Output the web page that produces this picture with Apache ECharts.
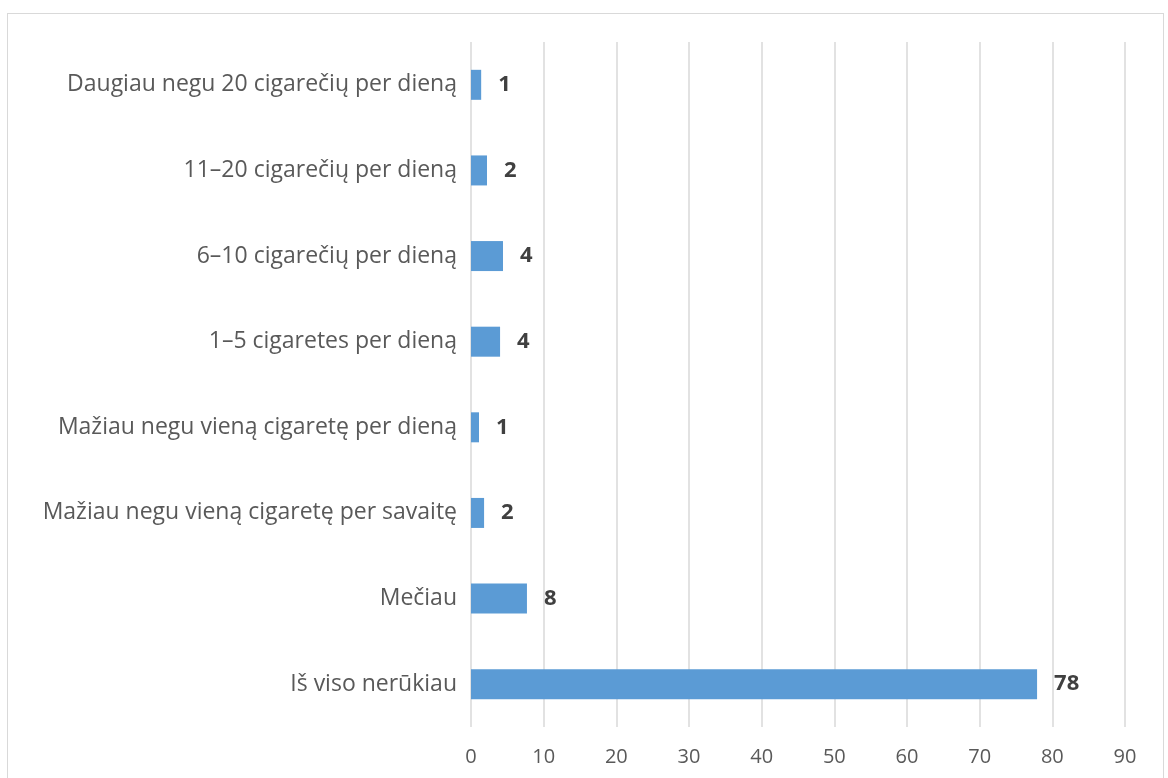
<!DOCTYPE html>
<html>
<head>
<meta charset="utf-8">
<script src="https://cdn.jsdelivr.net/npm/echarts@6/dist/echarts.min.js"></script>
<style>
  html, body { margin: 0; padding: 0; background: #fff; }
  #frame { position: absolute; left: 7px; top: 13px; width: 1157px; height: 800px; border: 1.5px solid #d9d9d9; box-sizing: border-box; }
  #chart { position: absolute; left: 0; top: 0; width: 1168px; height: 778px; }
</style>
</head>
<body>
<div id="frame"></div>
<div id="chart"></div>
<script>
// kategorijos iš viršaus į apačią
const categories = [
  "Daugiau negu 20 cigarečių per dieną",
  "11–20 cigarečių per dieną",
  "6–10 cigarečių per dieną",
  "1–5 cigaretes per dieną",
  "Mažiau negu vieną cigaretę per dieną",
  "Mažiau negu vieną cigaretę per savaitę",
  "Mečiau",
  "Iš viso nerūkiau"
];
const values = [1.4, 2.2, 4.4, 4.0, 1.1, 1.8, 7.7, 77.9];
const xTicks = { min: 0, max: 90, interval: 10 };

const font = "'Open Sans', sans-serif";
const myChart = echarts.init(document.getElementById("chart"));
myChart.setOption({
  animation: false,
  grid: { left: 471, right: 43, top: 42, bottom: 51 },
  xAxis: {
    type: "value",
    min: xTicks.min,
    max: xTicks.max,
    interval: xTicks.interval,
    axisLine: { show: false },
    axisTick: { show: false },
    axisLabel: { color: "#595959", fontSize: 20, fontFamily: font, margin: 20 },
    splitLine: { lineStyle: { color: "#d9d9d9", width: 1.5 } }
  },
  yAxis: {
    type: "category",
    inverse: true,
    data: categories,
    axisLine: { show: false },
    axisTick: { show: false },
    axisLabel: { color: "#595959", fontSize: 23, fontFamily: font, margin: 14 }
  },
  series: [{
    type: "bar",
    data: values,
    barWidth: 30,
    itemStyle: { color: "#5b9bd5" },
    label: {
      show: true,
      position: "right",
      distance: 17,
      color: "#404040",
      fontSize: 22,
      fontWeight: "bold",
      fontFamily: font,
      formatter: p => Math.round(p.value)
    }
  }]
});
</script>
</body>
</html>
